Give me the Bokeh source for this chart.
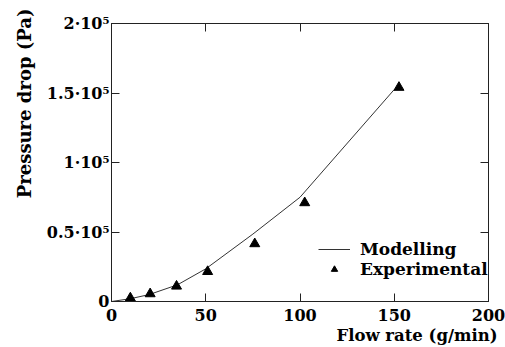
from bokeh.plotting import figure
from bokeh.models import LinearAxis, FixedTicker, Legend, LegendItem, Range1d, Title
from bokeh.embed import file_html
from bokeh.resources import INLINE

# Data
model_flow = [0, 10, 20, 35, 50, 75, 100, 150]
model_dp = [0, 2000, 5000, 12000, 23500, 48500, 75000, 152500]

exp_flow = [10, 20.5, 34.5, 51, 76, 102.5, 152.5]
exp_dp = [2500, 5500, 11000, 21500, 41500, 71000, 154000]

x_ticks = [0, 50, 100, 150, 200]
y_ticks = [0, 50000, 100000, 150000, 200000]
y_tick_labels = ["0", "0.5·10⁵", "1·10⁵", "1.5·10⁵", "2·10⁵"]

x_title = "Flow rate (g/min)"
y_title = "Pressure drop (Pa)"

FONT = "DejaVu Serif"
FS = "16px"
FS2 = "17px"

p = figure(width=505, height=347, x_range=Range1d(0, 200), y_range=Range1d(0, 200000),
           output_backend="svg", toolbar_location=None,
           min_border_left=111, min_border_right=17, min_border_top=23, min_border_bottom=46)
p.background_fill_color = "white"
p.border_fill_color = "white"
p.xgrid.visible = False
p.ygrid.visible = False
p.outline_line_color = "#222222"
p.outline_line_width = 1

line = p.line(model_flow, model_dp, line_color="#333333", line_width=1)
sc = p.scatter(exp_flow, exp_dp, marker="triangle", size=10, fill_color="black", line_color="black")

def style_axis(ax):
    ax.major_tick_in = 8
    ax.major_tick_out = 0
    ax.minor_tick_in = 0
    ax.minor_tick_out = 0
    ax.axis_line_color = "#222222"
    ax.major_tick_line_color = "#222222"
    ax.major_label_text_font = FONT
    ax.major_label_text_font_style = "bold"
    ax.major_label_text_color = "black"
    ax.major_label_text_font_size = FS

xa = p.xaxis[0]
ya = p.yaxis[0]
style_axis(xa)
style_axis(ya)
xa.ticker = FixedTicker(ticks=x_ticks)
ya.ticker = FixedTicker(ticks=y_ticks)
ya.major_label_overrides = {t: l for t, l in zip(y_ticks, y_tick_labels)}
xa.major_label_standoff = 7
ya.major_label_standoff = 2

ra = LinearAxis(ticker=FixedTicker(ticks=y_ticks))
style_axis(ra)
ra.major_label_overrides = {t: "" for t in y_ticks}
ra.major_label_standoff = 0
p.add_layout(ra, "right")
ta = LinearAxis(ticker=FixedTicker(ticks=x_ticks))
style_axis(ta)
ta.major_label_overrides = {t: "" for t in x_ticks}
ta.major_label_standoff = 0
p.add_layout(ta, "above")

# Axis titles as Title annotations: right-aligned x title, top-aligned y title
xt = Title(text=x_title, align="right", offset=-9, standoff=1, text_font=FONT,
           text_font_style="bold", text_font_size="16.5px", text_color="black")
p.add_layout(xt, "below")
yt = Title(text=y_title, align="right", offset=-15, standoff=17, text_font=FONT,
           text_font_style="bold", text_font_size="18px", text_color="black")
p.add_layout(yt, "left")

legend = Legend(items=[LegendItem(label="Modelling", renderers=[line]),
                       LegendItem(label="Experimental", renderers=[sc])],
                location=(207, 22))
legend.label_text_font = FONT
legend.label_text_font_style = "bold"
legend.label_text_font_size = FS2
legend.label_text_color = "black"
legend.background_fill_alpha = 0
legend.border_line_alpha = 0
legend.padding = 0
legend.margin = 0
legend.spacing = 0
legend.glyph_width = 32
legend.glyph_height = 16
legend.label_height = 16
legend.label_standoff = 10
p.add_layout(legend)

open("out.html", "w").write(file_html(p, INLINE))
